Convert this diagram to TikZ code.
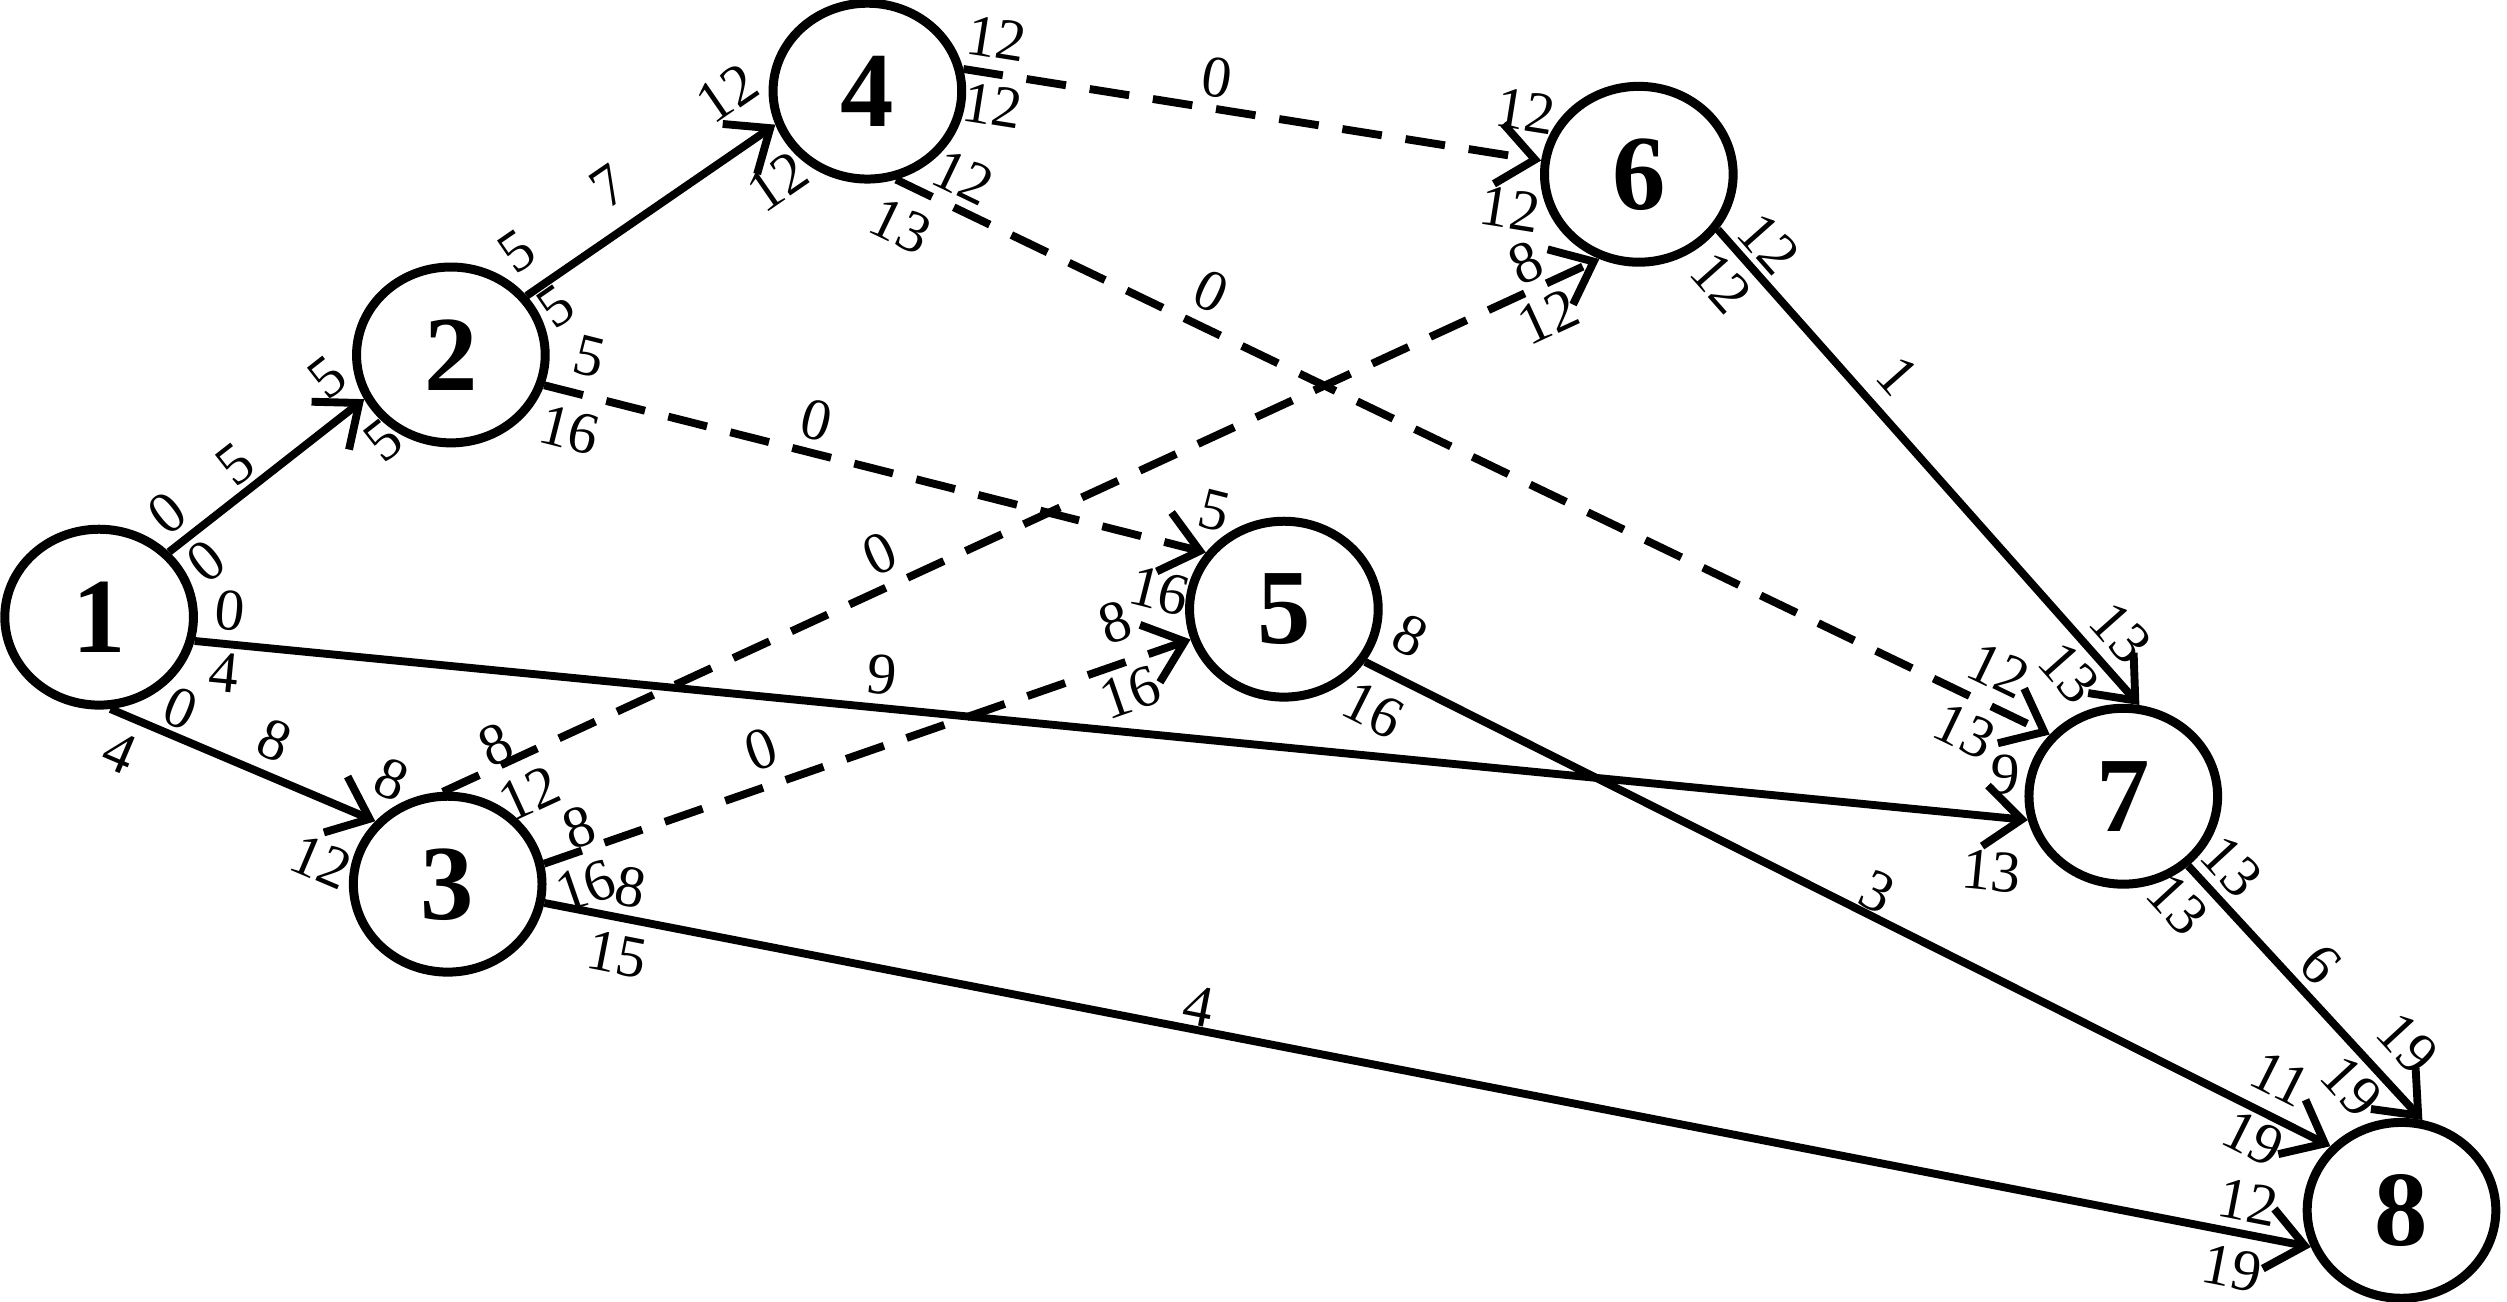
\documentclass[tikz,border=0pt]{standalone}
\usepackage{fontspec}
\setmainfont{Liberation Serif}
\usetikzlibrary{arrows.meta,decorations.markings,shapes.geometric}
\tikzset{
  ev/.style={ellipse, draw, line width=1.6pt, minimum width=1.18cm, minimum height=1.1cm, inner sep=0pt, font=\fontsize{19}{21}\selectfont\bfseries},
  act/.style={line width=1.4pt, -{Straight Barb[length=2.3mm,width=3.8mm,line width=1.4pt]}},
  dum/.style={act, dash pattern=on 2.5mm off 1.5mm},
  lab/.style={font=\fontsize{10.5}{12}\selectfont, inner sep=0pt, transform shape},
}
\pgfkeys{/pgf/decoration/lb/.style n args={3}{mark=at position #1 with {\node[lab] at (0,#2) {#3};}}}
\newcommand{\actedge}[4]{%
  \draw[#1, postaction={decorate}, decoration={markings, #4}] #2 -- #3;}
\begin{document}
\begin{tikzpicture}
\useasboundingbox (0,0) rectangle (15.68,-8.14);
\node[ev] (n1) at (0.62,-3.86) {1};
\node[ev] (n2) at (2.82,-2.22) {2};
\node[ev] (n3) at (2.80,-5.53) {3};
\node[ev] (n4) at (5.425,-0.57) {4};
\node[ev] (n5) at (8.03,-3.81) {5};
\node[ev] (n6) at (10.25,-1.09) {6};
\node[ev] (n7) at (13.28,-4.98) {7};
\node[ev] (n8) at (15.02,-7.57) {8};
% 1 -> 2
\actedge{act}{(n1.43.6)}{(n2.207.4)}{lb={0.138cm}{0.196}{0}, lb={0.145cm}{-0.188}{0}, lb={0.43}{0.175}{5}, lb={-0.097cm}{0.25}{5}, lb={-0.064cm}{-0.279}{5}}
% 1 -> 3
\actedge{act}{(n1.-83.5)}{(n3.139.8)}{lb={0.157cm}{-0.225}{4}, lb={0.405cm}{0.173}{0}, lb={0.57}{0.22}{8}, lb={-0.213cm}{-0.364}{12}, lb={-0.01cm}{0.28}{8}}
% 1 -> 7
\actedge{act}{(n1.-14)}{(n7.194.8)}{lb={0.2cm}{0.21}{0}, lb={0.2cm}{-0.18}{4}, lb={0.373}{0.21}{9}, lb={-0.193cm}{-0.34}{13}, lb={-0.17cm}{0.265}{9}}
% 2 -> 4
\actedge{act}{(n2.38)}{(n4.200.4)}{lb={0.108cm}{0.265}{5}, lb={0.11cm}{-0.159}{5}, lb={0.43}{0.275}{7}, lb={-0.188cm}{-0.302}{12}, lb={-0.135cm}{0.334}{12}}
% 2 -> 5
\actedge{dum}{(n2.-18.4)}{(n5.144.6)}{lb={0.223cm}{-0.233}{16}, lb={0.228cm}{0.243}{5}, lb={0.40}{0.205}{0}, lb={-0.223cm}{-0.303}{16}, lb={-0.01cm}{0.268}{5}}
% 3 -> 6
\actedge{dum}{(n3.93)}{(n6.245.6)}{lb={0.427cm}{0.128}{8}, lb={0.486cm}{-0.235}{12}, lb={0.39}{0.208}{0}, lb={-0.44cm}{-0.193}{12}, lb={-0.426cm}{0.174}{8}}
% 3 -> 5
\actedge{dum}{(n3.12.3)}{(n5.198.4)}{lb={0.2cm}{-0.217}{16}, lb={0.283cm}{0.145}{8}, lb={0.355}{0.23}{0}, lb={-0.467cm}{-0.188}{16}, lb={-0.408cm}{0.258}{8}}
% 3 -> 8
\actedge{act}{(n3.-11.8)}{(n8.202.5)}{lb={0.507cm}{-0.228}{15}, lb={0.51cm}{0.2}{8}, lb={0.368}{0.15}{4}, lb={-0.456cm}{-0.226}{19}, lb={-0.436cm}{0.2}{12}}
% 4 -> 6
\actedge{dum}{(n4.13.3)}{(n6.172.6)}{lb={0.176cm}{0.222}{12}, lb={0.215cm}{-0.198}{12}, lb={0.43}{0.197}{0}, lb={-0.145cm}{0.29}{12}, lb={-0.144cm}{-0.328}{12}}
% 4 -> 7
\actedge{dum}{(n4.-72)}{(n7.140.3)}{lb={0.152cm}{-0.249}{13}, lb={0.372cm}{0.195}{12}, lb={0.26}{0.225}{0}, lb={-0.487cm}{-0.211}{13}, lb={-0.462cm}{0.223}{12}}
% 5 -> 8
\actedge{act}{(n5.-33.7)}{(n8.138.5)}{lb={0.18cm}{-0.246}{16}, lb={0.183cm}{0.271}{8}, lb={0.52}{0.15}{3}, lb={-0.466cm}{0.236}{11}, lb={-0.451cm}{-0.171}{19}}
% 6 -> 7
\actedge{act}{(n6.-35.5)}{(n7.80.4)}{lb={0.26cm}{-0.203}{12}, lb={0.279cm}{0.18}{12}, lb={0.36}{0.237}{1}, lb={-0.438cm}{-0.194}{13}, lb={-0.413cm}{0.212}{13}}
% 7 -> 8
\actedge{act}{(n7.-47)}{(n8.77)}{lb={0.133cm}{-0.21}{13}, lb={0.186cm}{0.196}{13}, lb={0.47}{0.193}{6}, lb={-0.452cm}{-0.182}{19}, lb={-0.415cm}{0.258}{19}}
\end{tikzpicture}
\end{document}
